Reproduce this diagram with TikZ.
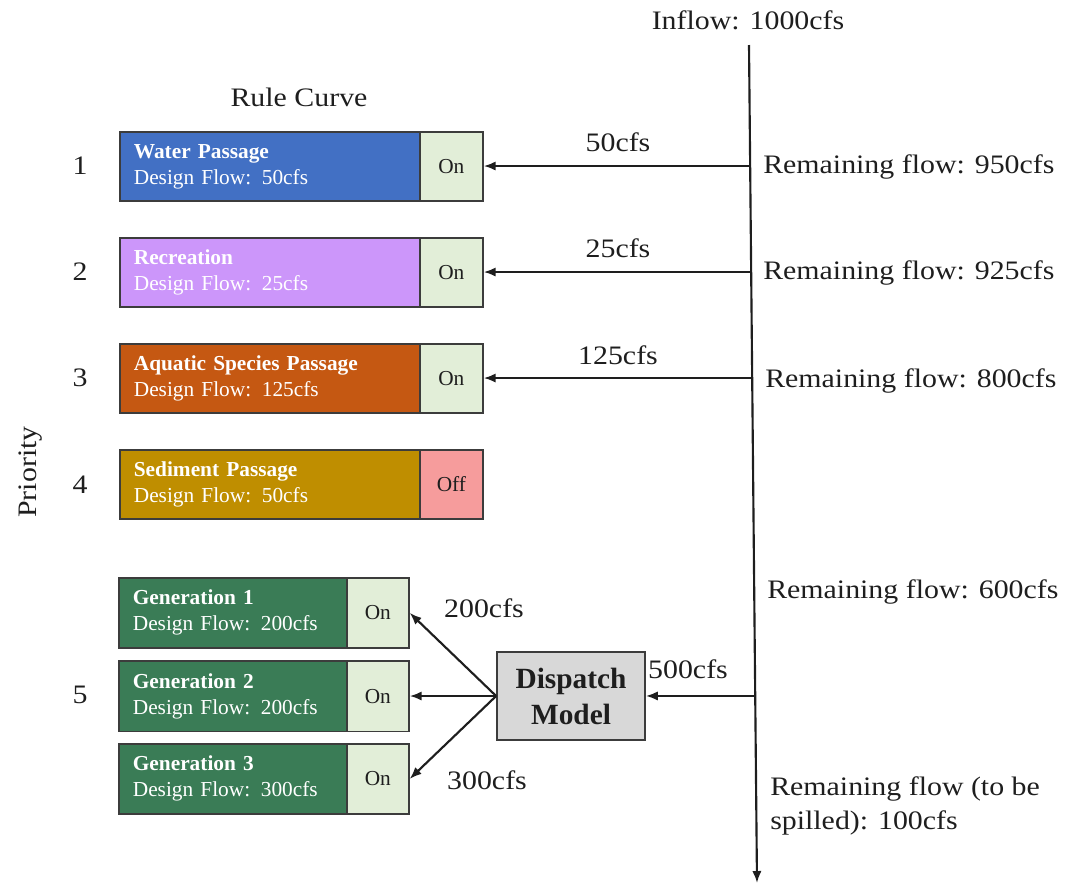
\documentclass[tikz,border=0pt]{standalone}
\usepackage{fontspec}
\setmainfont{Liberation Serif}
\newfontfamily\widefont[FakeStretch=1.12]{Liberation Serif}
\usetikzlibrary{arrows.meta,calc}

\definecolor{wpblue}{RGB}{66,112,196}
\definecolor{recpurple}{RGB}{204,150,250}
\definecolor{aquaorange}{RGB}{197,88,18}
\definecolor{sedgold}{RGB}{191,142,0}
\definecolor{gengreen}{RGB}{58,124,86}
\definecolor{onfill}{RGB}{226,238,216}
\definecolor{offfill}{RGB}{246,156,156}
\definecolor{dispfill}{RGB}{216,216,216}
\definecolor{edge}{RGB}{60,60,60}
\definecolor{ink}{RGB}{30,30,30}

\tikzset{
  usebox/.style={draw=edge, line width=1.3pt, anchor=north west, inner xsep=10.5pt,
    minimum height=51.75pt, text width=#1, align=left, text=white,
    font=\fontsize{16}{19.5}\selectfont},
  statbox/.style={draw=edge, line width=1.3pt, anchor=north west, fill=onfill,
    minimum height=51.75pt, minimum width=#1, text=ink,
    font=\fontsize{16}{19}\selectfont},
  lbl/.style={text=ink, font=\widefont\fontsize{20}{24}\selectfont, inner sep=0pt},
  flowarrow/.style={draw=ink, line width=1.6pt, -{Latex[length=9pt,width=7pt]}}
}

\begin{document}
\begin{tikzpicture}[x=0.75pt,y=-0.75pt]
\useasboundingbox (0,0) rectangle (1066,886);

% main river line
\coordinate (top) at (749,45);
\coordinate (bot) at (757,883);
\draw[flowarrow] (top) -- (bot);
\node[lbl] (inflow) at (748,20) {Inflow: 1000cfs};

% heading and priority
\node[lbl] (rc) at (299,97) {Rule Curve};
\node[lbl, rotate=90] (prio) at (31,472) {Priority};
\node[lbl] (p1) at (80,166) {1};
\node[lbl] (p2) at (80,272) {2};
\node[lbl] (p3) at (80,378) {3};
\node[lbl] (p4) at (80,485) {4};
\node[lbl] (p5) at (80,695) {5};

% rule-curve uses
\node[usebox=204pt, fill=wpblue] (u1) at (119,131)
  {\textbf{Water Passage}\\Design Flow: 50cfs};
\node[statbox=47.25pt] (s1) at (419,131) {On};
\node[usebox=204pt, fill=recpurple] (u2) at (119,237)
  {\textbf{Recreation}\\Design Flow: 25cfs};
\node[statbox=47.25pt] (s2) at (419,237) {On};
\node[usebox=204pt, fill=aquaorange] (u3) at (119,343)
  {\textbf{Aquatic Species Passage}\\Design Flow: 125cfs};
\node[statbox=47.25pt] (s3) at (419,343) {On};
\node[usebox=204pt, fill=sedgold] (u4) at (119,449)
  {\textbf{Sediment Passage}\\Design Flow: 50cfs};
\node[statbox=47.25pt, fill=offfill] (s4) at (419,449) {Off};

% generation units
\node[usebox=150pt, fill=gengreen, minimum height=52.5pt] (g1) at (118,577)
  {\textbf{Generation 1}\\Design Flow: 200cfs};
\node[statbox=46.5pt, minimum height=52.5pt] (g1s) at (346,577) {On};
\node[usebox=150pt, fill=gengreen, minimum height=53pt] (g2) at (118,660)
  {\textbf{Generation 2}\\Design Flow: 200cfs};
\node[statbox=46.5pt, minimum height=53pt] (g2s) at (346,660) {On};
\node[usebox=150pt, fill=gengreen, minimum height=52.5pt] (g3) at (118,743)
  {\textbf{Generation 3}\\Design Flow: 300cfs};
\node[statbox=46.5pt, minimum height=52.5pt] (g3s) at (346,743) {On};

% dispatch model
\node[draw=edge, line width=1.3pt, fill=dispfill, minimum width=111pt, minimum height=66pt,
  align=center, text=ink, font=\fontsize{22}{27}\selectfont\bfseries] (disp) at (571,696)
  {Dispatch\\Model};

% withdrawal points on the river line
\coordinate (b1) at ($(top)!0.1444!(bot)$);
\coordinate (b2) at ($(top)!0.2709!(bot)$);
\coordinate (b3) at ($(top)!0.3974!(bot)$);
\coordinate (b5) at ($(top)!0.7768!(bot)$);

\draw[flowarrow] (b1) -- (s1.east |- b1);
\draw[flowarrow] (b2) -- (s2.east |- b2);
\draw[flowarrow] (b3) -- (s3.east |- b3);
\draw[flowarrow] (b5) -- (disp.east |- b5);
\draw[flowarrow] (disp.west) -- (g1s.east);
\draw[flowarrow] (disp.west) -- (g2s.east |- disp.west);
\draw[flowarrow] (disp.west) -- (g3s.east);

% flow labels
\node[lbl] (f1) at (618,142) {50cfs};
\node[lbl] (f2) at (618,248) {25cfs};
\node[lbl] (f3) at (618,355) {125cfs};
\node[lbl] (f5) at (688,669) {500cfs};
\node[lbl] (fg1) at (484,608) {200cfs};
\node[lbl] (fg3) at (487,780) {300cfs};

\node[lbl, anchor=west] (r1) at (763,167) {Remaining flow: 950cfs};
\node[lbl, anchor=west] (r2) at (763,273) {Remaining flow: 925cfs};
\node[lbl, anchor=west] (r3) at (765,381) {Remaining flow: 800cfs};
\node[lbl, anchor=west] (r4) at (767,592) {Remaining flow: 600cfs};
\node[lbl, anchor=north west, align=left, font=\widefont\fontsize{20}{26}\selectfont] (r5) at (770,776)
  {Remaining flow (to be\\spilled): 100cfs};
\end{tikzpicture}
\end{document}
